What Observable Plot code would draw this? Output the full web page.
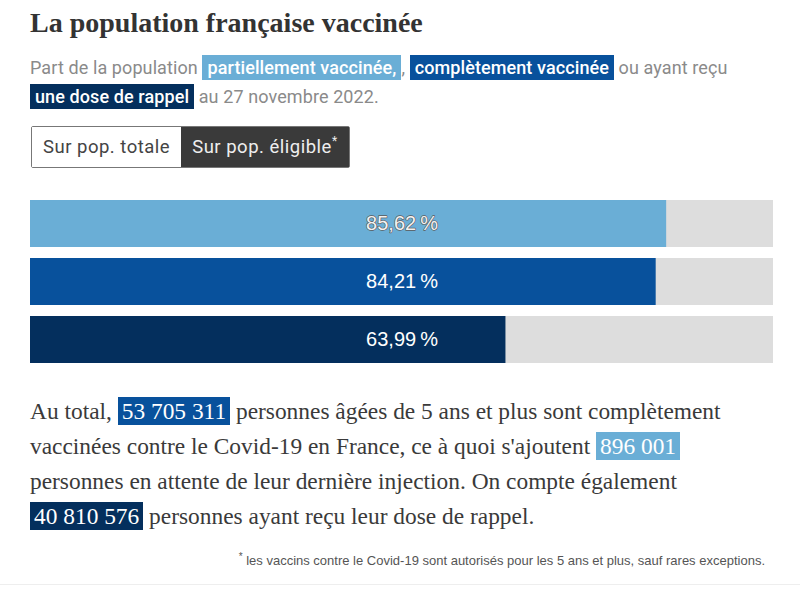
<!DOCTYPE html>
<html><head><meta charset="utf-8">
<script src="https://cdn.jsdelivr.net/npm/d3@7"></script>
<script src="https://cdn.jsdelivr.net/npm/@observablehq/plot@0.6"></script>
<style>
body{margin:0;background:#fff;width:800px;height:589px;overflow:hidden;position:relative;font-family:Roboto,"Noto Sans",sans-serif}
.abs{position:absolute;white-space:nowrap}
#title{left:30px;top:7px;font-family:"Liberation Serif",serif;font-weight:bold;font-size:28px;color:#333}
#sub{left:30px;top:53px;font-size:18px;line-height:29px;color:#8a8a8a;letter-spacing:0.1px}
.hl{color:#fff;padding:2px 5px;font-weight:500}
#btns{left:31px;top:126px;height:40px;display:flex;border:1px solid #777;border-radius:2px;font-size:18.5px;letter-spacing:0.5px}
#btns div{padding:0 11px;line-height:40px}
#b1{background:#fff;color:#444}
#b2{background:#3a3a3a;color:#eee}
#b2 sup{font-size:12px;vertical-align:8px;line-height:0}
#chart{left:0;top:190px}
#body{left:30px;top:394px;font-family:"Liberation Serif",serif;font-size:23.4px;line-height:35px;color:#3a3a3a}
.bh{color:#fff;padding:1px 4px}
#foot{right:35px;top:551px;font-family:"Liberation Sans Narrow","Liberation Sans",sans-serif;font-stretch:condensed;font-size:13px;color:#555}
#foot sup{font-size:10px}
#rule{left:0;top:584px;width:800px;height:1px;background:#eee}
</style></head>
<body>
<div id="title" class="abs">La population française vaccinée</div>
<div id="sub" class="abs"></div>
<div id="btns" class="abs"><div id="b1">Sur pop. totale</div><div id="b2">Sur pop. éligible<sup>*</sup></div></div>
<div id="chart" class="abs"></div>
<div id="body" class="abs"></div>
<div id="foot" class="abs"><sup>*</sup> les vaccins contre le Covid-19 sont autorisés pour les 5 ans et plus, sauf rares exceptions.</div>
<div id="rule" class="abs"></div>
<script>
// Data
const categories = ["partiellement vaccinée", "complètement vaccinée", "une dose de rappel"];
const values = [85.62, 84.21, 63.99];
const colors = ["#6aaed6", "#08519c", "#042f5d"];
const counts = ["53 705 311", "896 001", "40 810 576"];
const trackMax = 100;

const fmt = v => v.toFixed(2).replace(".", ",") + "\u202f%";
const rows = categories.map((c, i) => ({cat: c, value: values[i], label: fmt(values[i])}));

// Subtitle
const hl = (i, t) => `<span class="hl" style="background:${colors[i]}">${t}</span>`;
document.getElementById("sub").innerHTML =
  `Part de la population ${hl(0, "partiellement vaccinée,")}, ${hl(1, "complètement vaccinée")} ou ayant reçu<br>${hl(2, "une dose de rappel")} au 27 novembre 2022.`;

// Body paragraph
const bh = (i, t) => `<span class="bh" style="background:${colors[i]}">${t}</span>`;
document.getElementById("body").innerHTML =
  `Au total, ${bh(1, counts[0])} personnes âgées de 5 ans et plus sont complètement<br>` +
  `vaccinées contre le Covid-19 en France, ce à quoi s'ajoutent ${bh(0, counts[1])}<br>` +
  `personnes en attente de leur dernière injection. On compte également<br>` +
  `${bh(2, counts[2])} personnes ayant reçu leur dose de rappel.`;

// Chart
const labelFont = "Liberation Sans Narrow, Liberation Sans, sans-serif";
const chart = Plot.plot({
  width: 800,
  height: 180,
  marginLeft: 30,
  marginRight: 27,
  marginTop: 10,
  marginBottom: 7,
  x: {domain: [0, trackMax], axis: null},
  y: {domain: categories, axis: null, paddingInner: 0.19, paddingOuter: 0},
  color: {domain: categories, range: colors},
  style: {background: "transparent"},
  marks: [
    Plot.barX(rows, {x1: 0, x2: trackMax, y: "cat", fill: "#dddddd"}),
    Plot.barX(rows, {x: "value", y: "cat", fill: "cat"}),
    Plot.text(rows.slice(0, 1), {x: trackMax / 2, y: "cat", text: "label", fill: "#f2f2f2", stroke: "#5a5a5a", strokeWidth: 1.3, paintOrder: "stroke", fontSize: 20, fontFamily: labelFont}),
    Plot.text(rows.slice(1), {x: trackMax / 2, y: "cat", text: "label", fill: "#ffffff", fontSize: 20, fontFamily: labelFont})
  ]
});
document.getElementById("chart").appendChild(chart);
</script>
</body></html>
